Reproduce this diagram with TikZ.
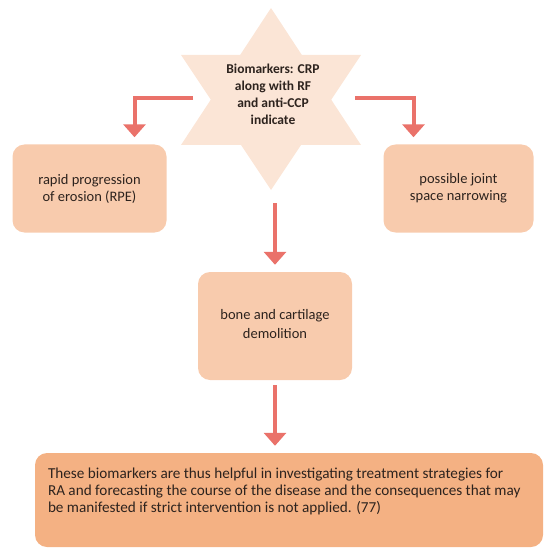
\documentclass[tikz,border=0pt]{standalone}
\usepackage{fontspec}
\setmainfont{Carlito}
\usepackage{tikz}
\usetikzlibrary{shapes,positioning,arrows.meta}
\definecolor{starfill}{RGB}{251,229,214}
\definecolor{boxfill}{RGB}{248,203,173}
\definecolor{notefill}{RGB}{244,177,131}
\definecolor{arrowred}{RGB}{234,114,106}
\definecolor{textdark}{RGB}{45,35,30}

\tikzset{
  stage/.style={fill=boxfill,rounded corners=12pt,minimum width=154pt,minimum height=88pt,align=center,text=textdark,font=\fontsize{14.5}{17}\selectfont},
  flow/.style={draw=arrowred,line width=4pt,-{Triangle[width=22pt,length=13pt]},shorten >=7pt}
}

\begin{document}
\begin{tikzpicture}[x=1pt,y=-1pt]
  \useasboundingbox (0,0) rectangle (546,548);

  % star
  \fill[starfill] (271,8) -- (181,145) -- (361,145) -- cycle;
  \fill[starfill] (271,190) -- (181,55) -- (361,55) -- cycle;
  \node[align=center,text=textdark,font=\bfseries\fontsize{13.5}{17}\selectfont](bio) at (273,94){Biomarkers: CRP\\along with RF\\and anti-CCP\\indicate};

  \node[stage](rpe) at (89.5,188.5){rapid progression\\of erosion (RPE)};
  \node[stage,minimum width=150pt](jsn) at (458.5,188.5){possible joint\\space narrowing};
  \node[stage,minimum height=108pt,font=\fontsize{14.5}{19}\selectfont](bone) at (275,326){\raisebox{5pt}{bone and cartilage}\\\raisebox{5pt}{demolition}};
  \node[fill=notefill,rounded corners=12pt,minimum width=508pt,minimum height=94pt,inner sep=0pt,text=textdark,font=\fontsize{15.2}{17}\selectfont](note) at (289,500)
    {\parbox[c][64pt][t]{482pt}{These biomarkers are thus helpful in investigating treatment strategies for\\
     RA and forecasting the course of the disease and the consequences that may\\
     be manifested if strict intervention is not applied. (77)}};

  \coordinate (lstart) at (193,98);
  \coordinate (rstart) at (355,98);
  \coordinate (mstart) at (275,203);

  \draw[flow] (lstart) -| ([xshift=45pt]rpe.north);
  \draw[flow] (rstart) -| ([xshift=-45pt]jsn.north);
  \draw[flow] (mstart) -- (bone.north);
  \draw[flow,shorten <=5pt] (bone.south) -- (bone.south |- note.north);
\end{tikzpicture}
\end{document}
